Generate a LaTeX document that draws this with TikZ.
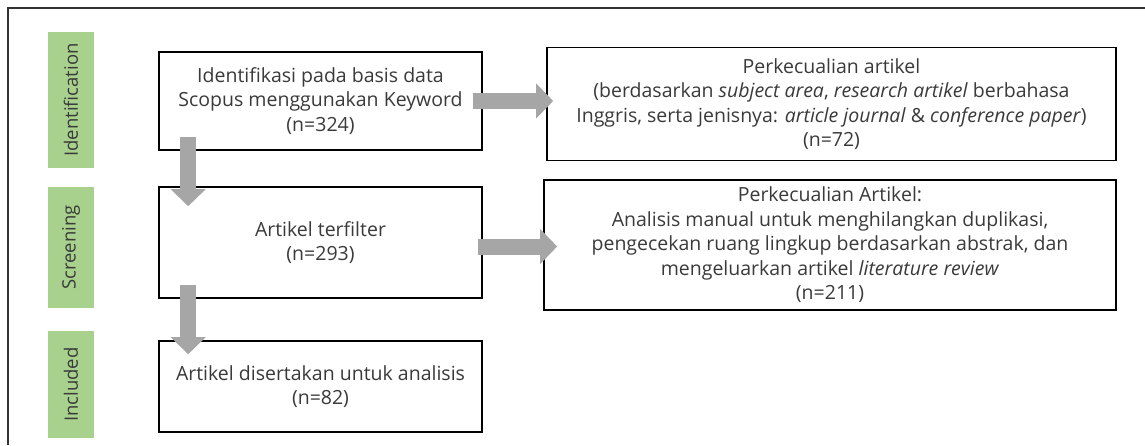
\documentclass[tikz,border=0pt]{standalone}
\usepackage{fontspec}
\setmainfont{Open Sans}
\usetikzlibrary{arrows.meta}
\definecolor{phasegreen}{HTML}{A9D18E}
\definecolor{arrowgrey}{HTML}{A6A6A6}
\definecolor{textgrey}{HTML}{3A3A3A}
\tikzset{
  stage box/.style={draw=black,line width=1.6pt,fill=white,align=center,text=textgrey,
                    font=\fontsize{19.5}{24.5}\selectfont,inner sep=2pt},
  phase node/.style={fill=phasegreen,rotate=90,text=textgrey,minimum height=46pt,
                     font=\fontsize{18.5}{20}\selectfont,inner sep=0pt},
  big arrow/.style={draw=arrowgrey,line width=16pt,-{Triangle[width=34pt,length=17pt]}}
}
\begin{document}
\begin{tikzpicture}[x=1pt,y=-1pt]
   \useasboundingbox (0,0) rectangle (1145,445);
   \draw[line width=1.2pt,draw=black!80] (8,445) -- (8,8) -- (1145,8);
   % phase labels
   \node[phase node,minimum width=136pt] (pid) at (71,100) {Identification};
   \node[phase node,minimum width=121pt] (psc) at (71,247.5) {Screening};
   \node[phase node,minimum width=107pt] (pin) at (71,384.5) {Included};
   % left column
   \node[stage box,minimum width=323pt,minimum height=98pt] (ident) at (320.5,101) {Identifikasi pada basis data\\Scopus menggunakan Keyword\\(n=324)};
   \node[stage box,minimum width=323pt,minimum height=111pt] (filt) at (320.5,242.5) {Artikel terfilter\\(n=293)};
   \node[stage box,minimum width=323pt,minimum height=91pt] (incl) at (320.5,386.5) {Artikel disertakan untuk analisis\\(n=82)};
   % right column
   \node[stage box,minimum width=569pt,minimum height=113pt] (excla) at (831.5,104) {Perkecualian artikel\\(berdasarkan \textit{subject area}, \textit{research artikel} berbahasa\\Inggris, serta jenisnya: \textit{article journal} \& \textit{conference paper})\\(n=72)};
   \node[stage box,minimum width=572pt,minimum height=130pt] (exclb) at (830,245) {Perkecualian Artikel:\\Analisis manual untuk menghilangkan duplikasi,\\pengecekan ruang lingkup berdasarkan abstrak, dan\\mengeluarkan artikel \textit{literature review}\\(n=211)};
   % arrows
   \coordinate (fs) at ([shift={(-5pt,-4pt)}]filt.east);
   \draw[big arrow] ([shift={(30pt,14pt)}]ident.south west) -- ([shift={(30pt,-20pt)}]filt.north west);
   \draw[big arrow] ([shift={(30pt,14pt)}]filt.south west) -- ([shift={(30pt,-14pt)}]incl.north west);
   \draw[big arrow] ([xshift=-10pt]ident.east) -- ([xshift=7pt]excla.west |- ident.east);
   \draw[big arrow] (fs) -- ([xshift=14pt]exclb.west |- fs);
\end{tikzpicture}
\end{document}
